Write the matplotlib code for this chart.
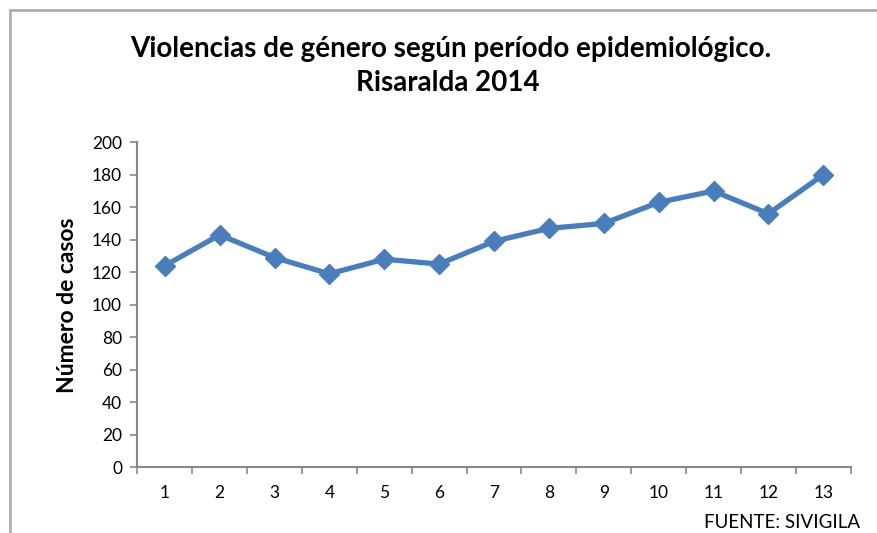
import matplotlib.pyplot as plt
from matplotlib.lines import Line2D

# Data
periodos = list(range(1, 14))
casos = [124, 143, 129, 119, 128, 125, 139, 147, 150, 163, 170, 156, 180]
y_ticks = [0, 20, 40, 60, 80, 100, 120, 140, 160, 180, 200]

LINE_COLOR = '#4a7ebb'
AXIS_COLOR = '#888888'
FONT = ['Lato', 'DejaVu Sans']

plt.rcParams['font.family'] = FONT

fig = plt.figure(figsize=(8.77, 5.33), dpi=100)
ax = fig.add_axes([0.1566, 0.1238, 0.9700 - 0.1566, 0.7330 - 0.1238])

# Series
ax.plot(periodos, casos, color=LINE_COLOR, linewidth=3.8, marker='D',
        markersize=10, solid_joinstyle='round')

# Axes configuration
ax.set_xlim(0.5, 13.5)
ax.set_ylim(0, 200)
ax.set_yticks(y_ticks)
ax.set_xticks(periodos)
ax.set_xticks([p + 0.5 for p in [0] + periodos], minor=True)
ax.tick_params(axis='x', which='major', length=0, pad=13, labelsize=12.5)
ax.tick_params(axis='x', which='minor', length=5, width=1.2, color=AXIS_COLOR)
ax.tick_params(axis='y', length=5, width=1.2, color=AXIS_COLOR, pad=6, labelsize=12.5)

for side in ['top', 'right']:
    ax.spines[side].set_visible(False)
for side in ['left', 'bottom']:
    ax.spines[side].set_color(AXIS_COLOR)
    ax.spines[side].set_linewidth(1.5)

ax.set_ylabel('Número de casos', fontsize=16.5, fontweight='bold')
ax.yaxis.set_label_coords(-0.083, 0.497)

# Title and source
fig.text(0.514, 0.909, 'Violencias de género según período epidemiológico.',
         ha='center', va='center', fontsize=20, fontweight='bold')
fig.text(0.511, 0.844, 'Risaralda 2014', ha='center', va='center',
         fontsize=20, fontweight='bold')
fig.text(0.981, 0.004, 'FUENTE: SIVIGILA', ha='right', va='bottom', fontsize=13.5)

# Outer frame (left and top edges)
fig.add_artist(Line2D([10 / 877, 10 / 877], [0, 1 - 10 / 533],
                      transform=fig.transFigure, color='#b0b0b0', linewidth=2))
fig.add_artist(Line2D([10 / 877, 1], [1 - 10 / 533, 1 - 10 / 533],
                      transform=fig.transFigure, color='#b0b0b0', linewidth=2))

fig.savefig('out.png', dpi=100)
